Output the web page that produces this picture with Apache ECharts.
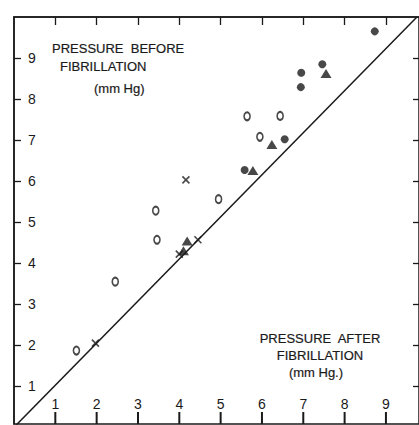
<!DOCTYPE html>
<html>
<head>
<meta charset="utf-8">
<script src="https://cdn.jsdelivr.net/npm/echarts@6/dist/echarts.min.js"></script>
<style>
  html, body { margin: 0; padding: 0; background: #fff; overflow: hidden; }
  #chart { width: 419px; height: 425px; }
</style>
</head>
<body>
<div id="chart"></div>
<script>
// values: [pressure after, pressure before] in mm Hg
var openCircles = [[1.51, 1.87], [2.45, 3.55], [3.43, 5.28], [3.46, 4.57], [4.95, 5.56], [5.64, 7.58], [6.44, 7.59], [5.95, 7.08]];
var filledCircles = [[8.73, 9.65], [7.46, 8.85], [6.95, 8.64], [6.94, 8.29], [6.55, 7.02], [5.58, 6.27]];
var triangles = [[7.55, 8.62], [6.24, 6.89], [5.78, 6.26], [4.19, 4.54], [4.1, 4.3]];
var crosses = [[4.16, 6.03], [4.45, 4.57], [1.97, 2.05], [4.0, 4.22]];
var identityLine = [[0, 0], [9.75, 10]];
var xTicks = [1, 2, 3, 4, 5, 6, 7, 8, 9];
var yTicks = [1, 2, 3, 4, 5, 6, 7, 8, 9];

(function() {
  var ink = '#1a1a1a';
  var font = 'Liberation Sans, Arial, sans-serif';
  var yMin = 0.08; // the scan is cropped a little above y = 0
  var chart = echarts.init(document.getElementById('chart'), null, { renderer: 'svg' });

  function titleText(x, y, text, align) {
    return {
      type: 'text',
      style: {
        x: x, y: y, text: text, fill: ink, stroke: ink, lineWidth: 0.2,
        font: '13px ' + font, textAlign: align, textVerticalAlign: 'middle',
      },
    };
  }

  chart.setOption({
    backgroundColor: '#fff',
    animation: false,
    grid: {
      left: 14, right: 0, top: 17, bottom: 1, outerBoundsMode: 'none',
      show: true, borderColor: ink, borderWidth: 1.5, backgroundColor: 'transparent',
    },
    xAxis: [{
      type: 'value', position: 'bottom', min: 0, max: 9.8,
      axisLine: { show: false, onZero: false },
      axisTick: { show: false },
      axisLabel: { inside: true, margin: 13, customValues: xTicks, color: ink, fontSize: 14, fontFamily: font },
      splitLine: { show: false },
    }, {
      type: 'value', position: 'top', min: 0, max: 9.8,
      axisLine: { show: true, onZero: false, lineStyle: { color: ink, width: 1.5 } },
      axisTick: { show: true, inside: true, length: 8, customValues: xTicks, lineStyle: { color: ink, width: 1.3 } },
      axisLabel: { show: false },
      splitLine: { show: false },
    }],
    yAxis: [{
      type: 'value', position: 'left', min: yMin, max: 10,
      axisLine: { show: true, onZero: false, lineStyle: { color: ink, width: 1.5 } },
      axisTick: { show: true, inside: true, length: 7, customValues: yTicks, lineStyle: { color: ink, width: 1.3 } },
      axisLabel: { inside: true, margin: 14, customValues: yTicks, color: ink, fontSize: 14, fontFamily: font },
      splitLine: { show: false },
    }, {
      type: 'value', position: 'right', min: yMin, max: 10,
      axisLine: { show: false, onZero: false },
      axisTick: { show: true, inside: true, length: 6, customValues: yTicks, lineStyle: { color: ink, width: 1.3 } },
      axisLabel: { show: false },
      splitLine: { show: false },
    }],
    graphic: [
      titleText(52, 48, 'PRESSURE  BEFORE', 'left'),
      titleText(60, 66, 'FIBRILLATION', 'left'),
      titleText(94, 88, '(mm Hg)', 'left'),
      titleText(320, 338, 'PRESSURE  AFTER', 'center'),
      titleText(320, 355, 'FIBRILLATION', 'center'),
      titleText(316, 372, '(mm Hg.)', 'center'),
    ],
    series: [{
      type: 'line', data: identityLine, symbol: 'none',
      lineStyle: { color: ink, width: 1.5 },
    }, {
      // bottom tick marks standing up from the frame, one per x tick value
      type: 'scatter', silent: true, clip: false, z: 10,
      data: xTicks.map(function(v) { return [v, yMin]; }),
      symbol: 'rect', symbolSize: [2, 12], symbolOffset: [0, -6],
      itemStyle: { color: ink, opacity: 1 },
    }, {
      type: 'scatter', data: openCircles, symbol: 'circle', symbolSize: [6, 8],
      itemStyle: { color: '#fff', borderColor: ink, borderWidth: 1.8 },
    }, {
      type: 'scatter', data: filledCircles, symbol: 'circle', symbolSize: 8,
      itemStyle: { color: ink },
    }, {
      type: 'scatter', data: triangles, symbol: 'triangle', symbolSize: [11, 9],
      itemStyle: { color: ink },
    }, {
      type: 'scatter', data: crosses, symbol: 'path://M0,0L10,10M10,0L0,10', symbolSize: 7,
      itemStyle: { color: 'none', borderColor: ink, borderWidth: 1.6 },
    }],
  });
})();
</script>
</body>
</html>
